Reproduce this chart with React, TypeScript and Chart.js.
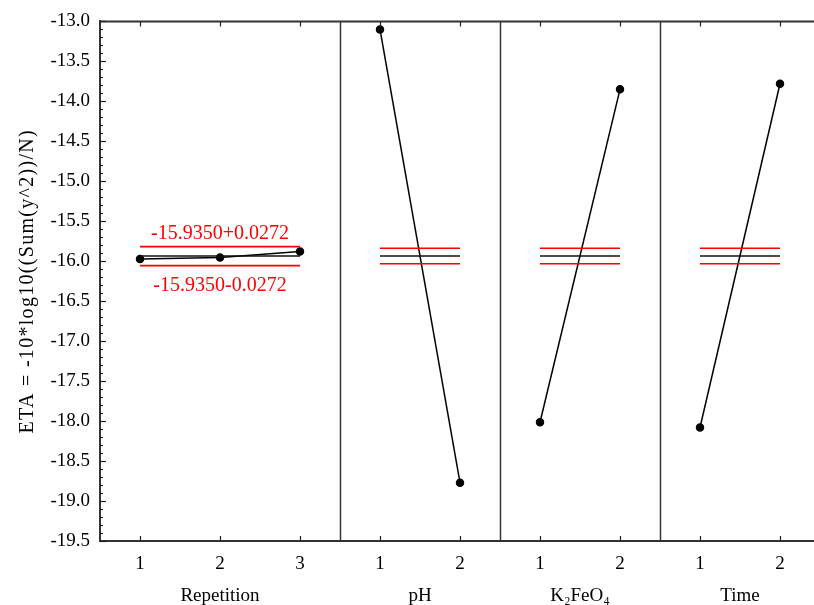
import React, { useEffect, useRef } from "react";
import { Chart, registerables } from "chart.js";

Chart.register(...registerables);

// ---- data ----
const factorNames = ["Repetition", "pH", "K\u2082FeO\u2084", "Time"];
const levelLabels = [
  ["1", "2", "3"],
  ["1", "2"],
  ["1", "2"],
  ["1", "2"],
];
const repetitionEta = [-15.973, -15.953, -15.878];
const phEta = [-13.1, -18.77];
const k2feo4Eta = [-18.015, -13.85];
const timeEta = [-18.08, -13.78];
const grandMean = -15.935;
const repetitionBand = [-15.817, -16.055];
const factorBand = [-15.838, -16.032];
const upperLabel = "-15.9350+0.0272";
const lowerLabel = "-15.9350-0.0272";
const yAxisTitle = "ETA = -10*log10((Sum(y^2))/N)";
const yMin = -19.5;
const yMax = -13.0;

const FONT = "'Liberation Serif', 'Times New Roman', serif";

export default function App() {
  const ref = useRef<HTMLCanvasElement | null>(null);

  useEffect(() => {
    const canvas = ref.current;
    if (!canvas) return;

    const series = [repetitionEta, phEta, k2feo4Eta, timeEta];
    const starts: number[] = [];
    let acc = 0;
    levelLabels.forEach((l) => {
      starts.push(acc);
      acc += l.length;
    });
    const totalLevels = acc;
    const tickPositions: number[] = [];
    const tickTexts: string[] = [];
    levelLabels.forEach((l, f) =>
      l.forEach((t, i) => {
        tickPositions.push(starts[f] + i + 0.5);
        tickTexts.push(t);
      })
    );

    const datasets: any[] = [];
    series.forEach((vals, f) => {
      const s = starts[f];
      const n = vals.length;
      const band = f === 0 ? repetitionBand : factorBand;
      const x0 = s + 0.5;
      const x1 = s + n - 0.5;
      datasets.push({
        data: [
          { x: x0, y: band[0] },
          { x: x1, y: band[0] },
        ],
        borderColor: "#ff0000",
        borderWidth: 1.6,
        pointRadius: 0,
      });
      datasets.push({
        data: [
          { x: x0, y: band[1] },
          { x: x1, y: band[1] },
        ],
        borderColor: "#ff0000",
        borderWidth: 1.6,
        pointRadius: 0,
      });
      datasets.push({
        data: [
          { x: x0, y: grandMean },
          { x: x1, y: grandMean },
        ],
        borderColor: "#111",
        borderWidth: 1.6,
        pointRadius: 0,
      });
      datasets.push({
        data: vals.map((v, i) => ({ x: s + i + 0.5, y: v })),
        borderColor: "#000",
        borderWidth: 1.5,
        pointRadius: 3.5,
        pointBackgroundColor: "#000",
        pointBorderColor: "#000",
      });
    });

    const decor = {
      id: "decor",
      afterDatasetsDraw(chart: any) {
        const { ctx, chartArea, scales } = chart;
        const xs = scales.x;
        const ys = scales.y;
        ctx.save();
        // frame top
        ctx.strokeStyle = "#333";
        ctx.lineWidth = 2;
        ctx.beginPath();
        ctx.moveTo(chartArea.left - 1, chartArea.top);
        ctx.lineTo(chartArea.right, chartArea.top);
        ctx.stroke();
        // panel dividers
        ctx.lineWidth = 1.5;
        starts.slice(1).concat([totalLevels]).forEach((b) => {
          const px = Math.round(xs.getPixelForValue(b)) + 0.5;
          if (px > chartArea.right + 1) return;
          ctx.beginPath();
          ctx.moveTo(px, chartArea.top);
          ctx.lineTo(px, chartArea.bottom);
          ctx.stroke();
        });
        // y ticks (inward)
        ctx.lineWidth = 1.2;
        ctx.strokeStyle = "#222";
        for (let k = 0; k <= Math.round((yMax - yMin) * 10); k++) {
          const v = yMin + k * 0.1;
          const py = Math.round(ys.getPixelForValue(v)) + 0.5;
          const major = k % 5 === 0;
          ctx.beginPath();
          ctx.moveTo(chartArea.left, py);
          ctx.lineTo(chartArea.left + (major ? 6 : 3), py);
          ctx.stroke();
        }
        // x ticks (inward, top & bottom)
        tickPositions.forEach((v) => {
          const px = Math.round(xs.getPixelForValue(v)) + 0.5;
          ctx.beginPath();
          ctx.moveTo(px, chartArea.bottom);
          ctx.lineTo(px, chartArea.bottom - 5);
          ctx.moveTo(px, chartArea.top);
          ctx.lineTo(px, chartArea.top + 5);
          ctx.stroke();
        });
        // red labels
        ctx.fillStyle = "#ff0000";
        ctx.font = `20px ${FONT}`;
        ctx.textAlign = "center";
        ctx.textBaseline = "middle";
        const cx = xs.getPixelForValue(starts[0] + levelLabels[0].length / 2);
        ctx.fillText(upperLabel, cx, ys.getPixelForValue(repetitionBand[0]) - 13);
        ctx.fillText(lowerLabel, cx, ys.getPixelForValue(repetitionBand[1]) + 20);
        // factor titles
        ctx.fillStyle = "#000";
        ctx.font = `19px ${FONT}`;
        factorNames.forEach((name, f) => {
          const c = xs.getPixelForValue(starts[f] + levelLabels[f].length / 2);
          ctx.fillText(name, c, chartArea.bottom + 55);
        });
        // y title
        ctx.save();
        ctx.font = `20px ${FONT}`;
        (ctx as any).letterSpacing = "1.3px";
        ctx.translate(28, (chartArea.top + chartArea.bottom) / 2);
        ctx.rotate(-Math.PI / 2);
        ctx.fillText(yAxisTitle, 0, 0);
        ctx.restore();
        ctx.restore();
      },
    };

    const chart = new Chart(canvas, {
      type: "line",
      data: { datasets },
      options: {
        animation: false,
        responsive: false,
        devicePixelRatio: 1,
        parsing: false as any,
        layout: { autoPadding: false, padding: { top: 20, right: 0, left: 0, bottom: 0 } },
        plugins: {
          legend: { display: false },
          tooltip: { enabled: false },
        },
        scales: {
          x: {
            type: "linear",
            min: 0,
            max: (totalLevels * 714) / 720,
            grid: { display: false, drawTicks: false },
            border: { display: true, color: "#333", width: 2 },
            afterBuildTicks: (scale: any) => {
              scale.ticks = tickPositions.map((v) => ({ value: v }));
            },
            afterFit: (scale: any) => {
              scale.height = 64;
            },
            ticks: {
              autoSkip: false,
              maxRotation: 0,
              padding: 12,
              color: "#000",
              font: { family: FONT, size: 19 },
              callback: (_v: any, i: number) => tickTexts[i],
            },
          },
          y: {
            type: "linear",
            min: yMin,
            max: yMax,
            grid: { display: false, drawTicks: false },
            border: { display: true, color: "#333", width: 2 },
            afterFit: (scale: any) => {
              scale.width = 100;
            },
            ticks: {
              stepSize: 0.5,
              padding: 10,
              color: "#000",
              font: { family: FONT, size: 19 },
              callback: (v: any) => Number(v).toFixed(1),
            },
          },
        },
      } as any,
      plugins: [decor],
    });
    return () => chart.destroy();
  }, []);

  return (
    <div style={{ position: "fixed", left: 0, top: 0, width: 814, height: 605, background: "#fff" }}>
      <canvas ref={ref} width={814} height={605} style={{ width: 814, height: 605 }} />
    </div>
  );
}
